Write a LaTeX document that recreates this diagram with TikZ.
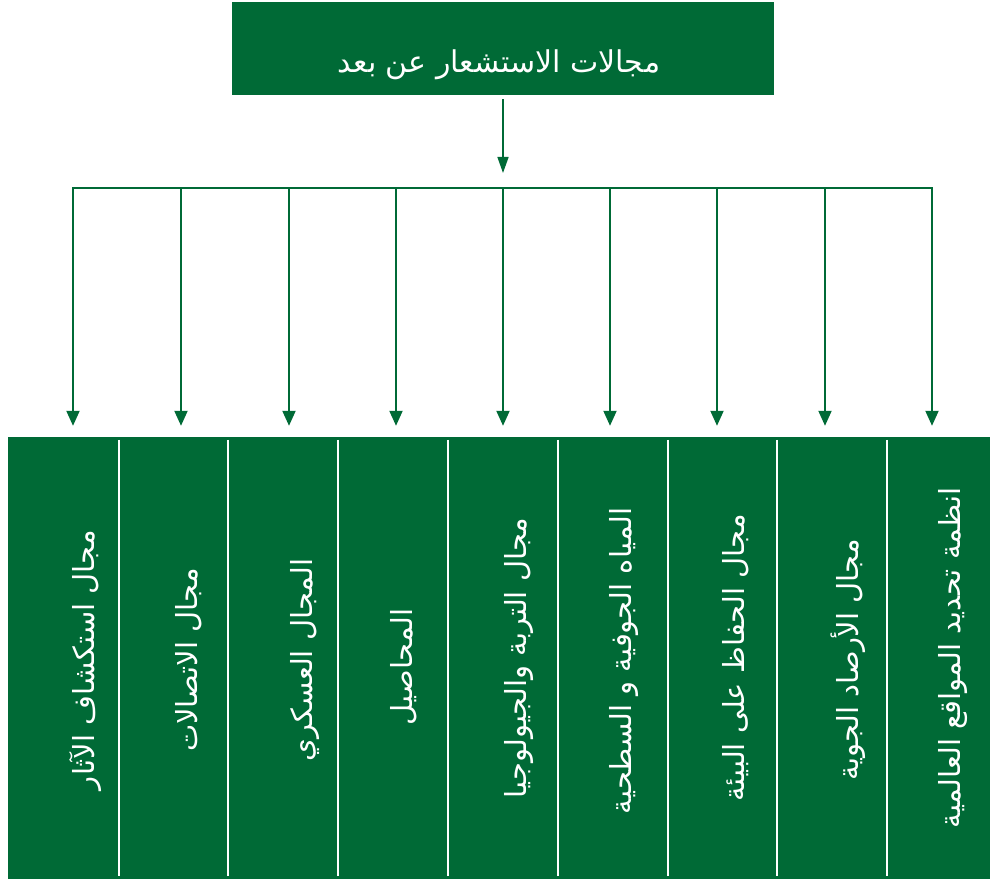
\documentclass[tikz,border=0pt]{standalone}
\usepackage{fontspec}
\TeXXeTstate=1
\newfontfamily\arabicfont[Script=Arabic]{DejaVu Sans}
\usetikzlibrary{arrows.meta}
\definecolor{dgreen}{RGB}{0,106,54}
\tikzset{
  greenbox/.style={fill=dgreen, draw=none, inner sep=0pt},
  colbox/.style={greenbox, minimum width=110pt, minimum height=442pt},
  lbl/.style={text=white, font=\arabicfont\fontsize{29}{32}\selectfont, inner sep=0pt},
  collbl/.style={lbl, rotate=90},
  conn/.style={draw=dgreen, line width=2pt},
  connarrow/.style={conn, -{Triangle[length=15pt,width=13pt]}},
  toparrow/.style={draw=dgreen, line width=1.4pt, -{Triangle[length=16pt,width=11pt]}},
  sep/.style={draw=white, line width=2pt}
}
\begin{document}
\begin{tikzpicture}[x=1pt,y=-1pt]
\useasboundingbox (0,0) rectangle (990,882);
% top box
\node[greenbox, minimum width=542pt, minimum height=93pt] (top) at (503,48.5) {};
\node[lbl, font=\arabicfont\fontsize{30}{33}\selectfont] (toptext) at (499,65) {\beginR مجالات الاستشعار عن بعد\endR};
% hub
\coordinate (hub) at (503,188);
\draw[toparrow, shorten <=4pt, shorten >=15pt] (top.south) -- (hub);
% columns
\foreach \i/\x/\w in {1/63.5/111,2/173.5/109,3/283/110,4/393/110,5/503/110,6/613/110,7/722.5/109,8/832/110,9/938.5/103}{
  \node[colbox, minimum width=\w pt] (c\i) at (\x,658) {};
}
\foreach \i in {1,...,8}{
  \draw[sep] ([yshift=-3pt]c\i.north east) -- ([yshift=3pt]c\i.south east);
}
% branch coordinates
\foreach \i/\x in {1/73,2/181,3/289,4/396,5/503,6/610,7/717,8/825,9/932}{
  \coordinate (a\i) at (\x,188);
}
\draw[conn] ([xshift=-1pt]a1) -- ([xshift=1pt]a9);
\foreach \i in {1,...,9}{
  \draw[connarrow, shorten >=11pt] (a\i) -- (a\i |- c\i.north);
}
% column labels
\node[collbl] (t1) at (85,660) {\beginR مجال استكشاف الآثار\endR};
\node[collbl] (t2) at (189,660) {\beginR مجال الاتصالات\endR};
\node[collbl] (t3) at (305,660) {\beginR المجال العسكري\endR};
\node[collbl] (t4) at (404,667) {\beginR المحاصيل\endR};
\node[collbl] (t5) at (519,658) {\beginR مجال التربة والجيولوجيا\endR};
\node[collbl] (t6) at (624,661) {\beginR المياه الجوفية و السطحية\endR};
\node[collbl] (t7) at (736,658) {\beginR مجال الحفاظ على البيئة\endR};
\node[collbl] (t8) at (848,660) {\beginR مجال الأرصاد الجوية\endR};
\node[collbl] (t9) at (953,658) {\beginR انظمة تحديد المواقع العالمية\endR};
\end{tikzpicture}
\end{document}
